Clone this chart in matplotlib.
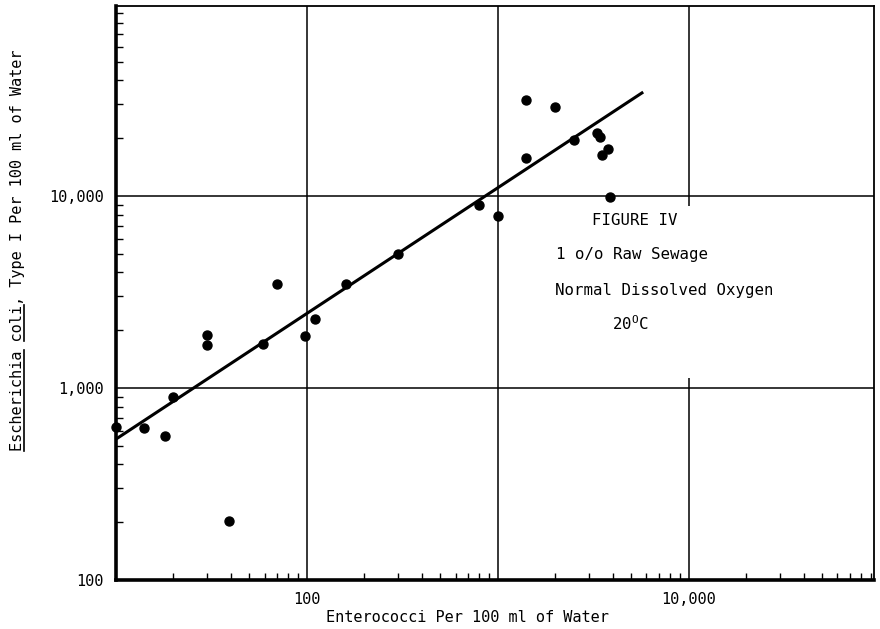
"""Figure IV: E. coli vs enterococci, 1 o/o raw sewage."""

import matplotlib
matplotlib.use("Agg")
import matplotlib.pyplot as plt
from matplotlib.lines import Line2D
from matplotlib.patches import Rectangle
from matplotlib.ticker import FixedLocator, FixedFormatter, LogLocator, NullFormatter

plt.rcParams["font.family"] = ["DejaVu Sans Mono", "DejaVu Sans"]
plt.rcParams["mathtext.fontset"] = "custom"
plt.rcParams["mathtext.rm"] = "DejaVu Sans Mono"

# puntos (enterococos, E. coli por 100 ml)
entero = [10, 14, 18, 20, 30, 30, 39, 59, 70, 98, 110, 160, 300, 800, 1000,
          1400, 1400, 2000, 2500, 3300, 3430, 3520, 3780, 3880]
ecoli = [627, 620, 560, 900, 1890, 1680, 203, 1700, 3480, 1860, 2290, 3500, 4990,
         8980, 7870, 31600, 15800, 29100, 19600, 21300, 20300, 16400, 17600, 9900]

# recta ajustada (extremos)
fit_x = [10, 5770]
fit_y = [542, 34800]

x_ticks = [100, 1000, 10000]
x_labels = ["100", "", "10,000"]
y_ticks = [100, 1000, 10000]
y_labels = ["100", "1,000", "10,000"]

ylabel_txt = "Escherichia coli, Type I Per 100 ml of Water"

fig = plt.figure(figsize=(8.8, 6.29), dpi=100)
ax = fig.add_axes([116 / 880, 1 - 580 / 629, 758 / 880, 574 / 629])
ax.set_xscale("log")
ax.set_yscale("log")
ax.set_xlim(10, 10 ** 4.97)
ax.set_ylim(100, 10 ** 4.99)

ax.plot(fit_x, fit_y, color="black", lw=2.2, solid_capstyle="butt", zorder=3)
ax.scatter(entero, ecoli, s=42, color="black", zorder=4, clip_on=False)

ax.xaxis.set_major_locator(FixedLocator(x_ticks))
ax.xaxis.set_major_formatter(FixedFormatter(x_labels))
ax.yaxis.set_major_locator(FixedLocator(y_ticks))
ax.yaxis.set_major_formatter(FixedFormatter(y_labels))
for axis in (ax.xaxis, ax.yaxis):
    axis.set_minor_locator(LogLocator(base=10, subs=range(2, 10)))
    axis.set_minor_formatter(NullFormatter())

ax.tick_params(which="both", direction="in", top=False, right=False,
               labelsize=11, color="black")
ax.tick_params(which="major", length=0, pad=9)
ax.tick_params(which="minor", length=5, width=1)
ax.grid(which="major", color="black", lw=1.1)
ax.set_axisbelow(True)

ax.spines["left"].set_linewidth(2.6)
ax.spines["bottom"].set_linewidth(2.6)
ax.spines["top"].set_linewidth(1.3)
ax.spines["right"].set_linewidth(1.3)

ax.set_xlabel("Enterococci Per 100 ml of Water", fontsize=11)
ax.xaxis.set_label_coords(0.463, -0.052)
ax.set_ylabel(ylabel_txt, fontsize=11)
ax.yaxis.set_label_coords(-0.120, 0.575)

# recuadro blanco del rotulo (tapa la linea vertical de 10,000)
ax.add_patch(Rectangle((548 / 880, 1 - 378 / 629), 240 / 880, 172 / 629,
                       transform=fig.transFigure, facecolor="white",
                       edgecolor="none", zorder=1))

fs = 11.3
fig.text(635 / 880, 1 - 220 / 629, "FIGURE IV", fontsize=fs, ha="center", va="center")
fig.text(556 / 880, 1 - 254 / 629, "1 o/o Raw Sewage", fontsize=fs, ha="left", va="center")
fig.text(555 / 880, 1 - 290 / 629, "Normal Dissolved Oxygen", fontsize=fs, ha="left", va="center")
fig.text(630 / 880, 1 - 324 / 629, r"20$^{\mathrm{O}}$C", fontsize=fs, ha="center", va="center")

# subrayado de "Escherichia" y "coli" (fuente monoespaciada)
fig.canvas.draw()
bb = ax.yaxis.label.get_window_extent()
cw = bb.height / len(ylabel_txt)
ux = (bb.x1 - 1.5) / 880
for start, n in [(0, 11), (12, 4)]:
    y0 = (bb.y0 + start * cw) / 629
    y1 = (bb.y0 + (start + n) * cw) / 629
    fig.add_artist(Line2D([ux, ux], [y0, y1], color="black", lw=1.2,
                          transform=fig.transFigure))

fig.savefig("out.png", dpi=100)
